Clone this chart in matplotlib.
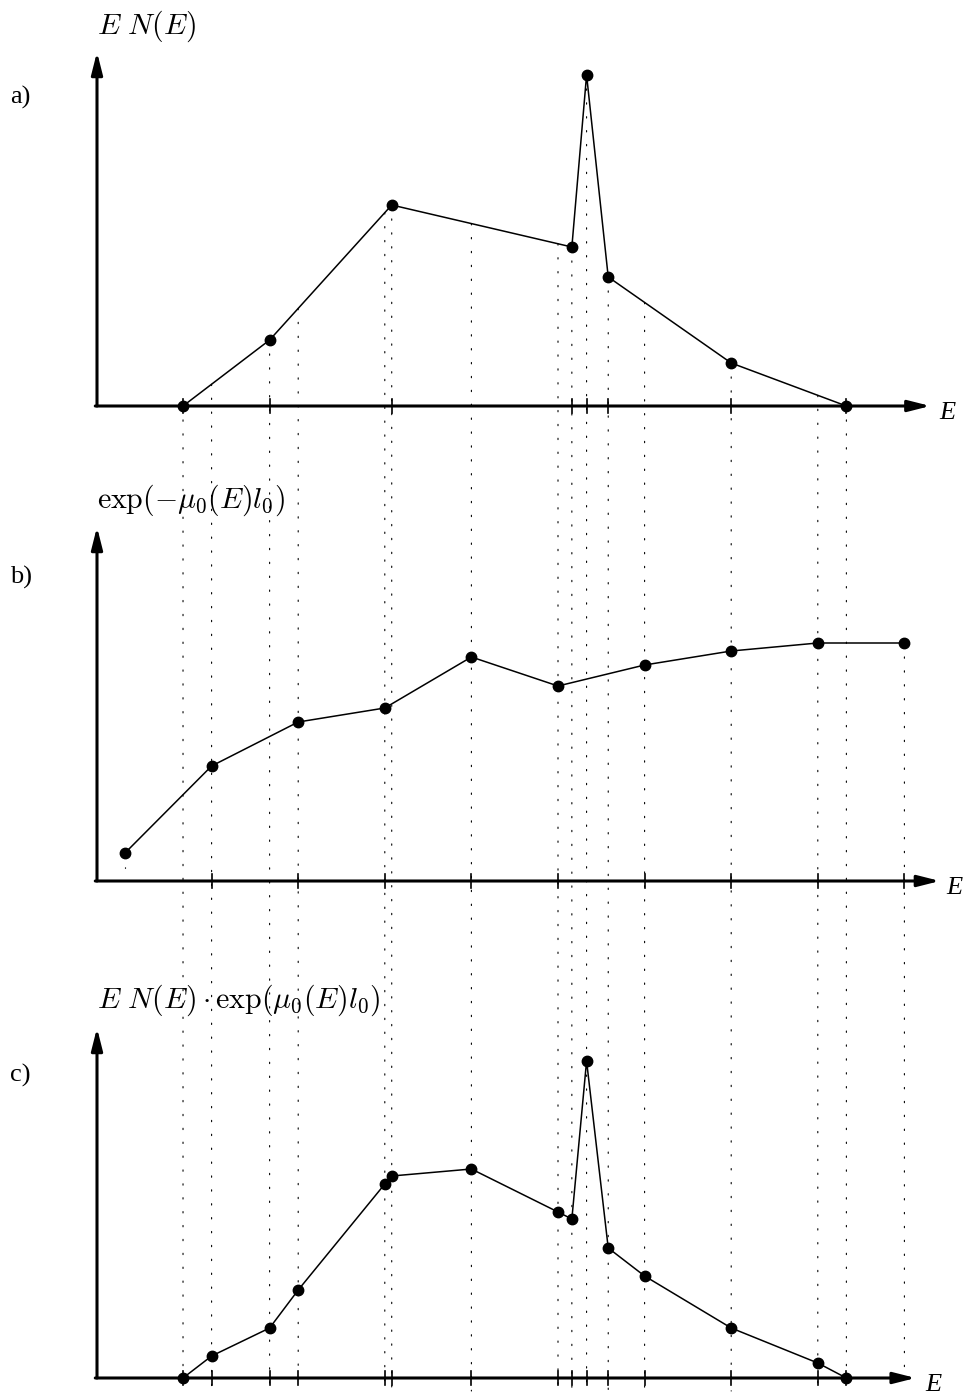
import numpy as np
import matplotlib
matplotlib.use("Agg")
import matplotlib.pyplot as plt
from matplotlib.patches import ConnectionPatch

plt.rcParams['mathtext.fontset'] = 'cm'
plt.rcParams['lines.scale_dashes'] = False

# energies (arbitrary units) and values
E_a = [1.67, 2.67, 4.08, 6.16, 6.33, 6.58, 8.0, 9.33]
N_a = [0.0, 0.66, 2.01, 1.59, 3.31, 1.29, 0.43, 0.0]

E_b = [1, 2, 3, 4, 5, 6, 7, 8, 9, 10]
T_b = [0.28, 1.15, 1.59, 1.73, 2.24, 1.95, 2.16, 2.30, 2.38, 2.38]

E_c = [1.67, 2.0, 2.67, 3.0, 4.0, 4.08, 5.0, 6.0, 6.16, 6.33, 6.58, 7.0, 8.0, 9.0, 9.33]
N_c = [0.0, 0.22, 0.50, 0.88, 1.94, 2.02, 2.09, 1.66, 1.59, 3.17, 1.30, 1.02, 0.50, 0.15, 0.0]

titles = [r'$E\ N(E)$', r'$\exp(-\mu_0(E) l_0)$', r'$E\ N(E)\cdot\exp(\mu_0(E) l_0)$']
letters = ['a)', 'b)', 'c)']

W, H = 964, 1396
fig = plt.figure(figsize=(W / 100, H / 100), dpi=100)

px0, pxs = 38.4, 86.6          # pixel position of E=0 and pixels per E unit
xlim = (-px0 / pxs, (W - px0) / pxs)
E0 = (97 - px0) / pxs          # origin of the axes

bases = [406, 881, 1378]
tops = [3.54, 3.54, 3.50]
xtips = [10.30, 10.41, 10.13]
elab = [10.40, 10.48, 10.24]

axes = []
for base in bases:
    ax = fig.add_axes([0, (H - base) / H, 1, 380 / H])
    ax.set_xlim(*xlim)
    ax.set_ylim(0, 3.8)
    ax.set_axis_off()
    axes.append(ax)

arrow = dict(arrowstyle='-|>,head_length=0.95,head_width=0.24', mutation_scale=14,
             lw=2.2, color='k', shrinkA=0, shrinkB=0)

for i, ax in enumerate(axes):
    ax.annotate('', xy=(E0, tops[i]), xytext=(E0, 0), arrowprops=arrow, annotation_clip=False)
    ax.annotate('', xy=(xtips[i], 0), xytext=(E0 - 0.02, 0), arrowprops=arrow, annotation_clip=False)
    ax.text(E0, [3.72, 3.73, 3.70][i], titles[i], fontsize=21.5, ha='left', va='baseline')
    ax.text(-0.33, [3.09, 3.04, 3.03][i], letters[i], fontsize=19, family='Liberation Serif',
            ha='left', va='center')
    ax.text(elab[i], -0.07, 'E', fontsize=19, family='Liberation Serif', style='italic',
            ha='left', va='center')

curves = [(E_a, N_a), (E_b, T_b), (E_c, N_c)]
tick_sets = [E_a, E_b[1:], E_c]
for ax, (ex, ey), tk in zip(axes, curves, tick_sets):
    for e in tk:
        ax.plot([e, e], [-0.07, 0.07], color='k', lw=1.2, clip_on=False)
    ax.plot(ex, ey, color='k', lw=1.1, marker='o', ms=7.5, clip_on=False, zorder=5)

# dotted guide lines running through the three panels
dots = dict(color='k', lw=0.8, linestyle=(0, (1, 9)))
for e in E_c:
    top = np.interp(e, E_a, N_a)
    cp = ConnectionPatch(xyA=(e, top), coordsA=axes[0].transData,
                         xyB=(e, -0.13), coordsB=axes[2].transData, **dots)
    fig.add_artist(cp)
axes[1].plot([E_b[0], E_b[0]], [T_b[0], 0], clip_on=False, **dots)
cp = ConnectionPatch(xyA=(E_b[-1], T_b[-1]), coordsA=axes[1].transData,
                     xyB=(E_b[-1], 0), coordsB=axes[2].transData, **dots)
fig.add_artist(cp)

fig.savefig('out.png', dpi=100)
